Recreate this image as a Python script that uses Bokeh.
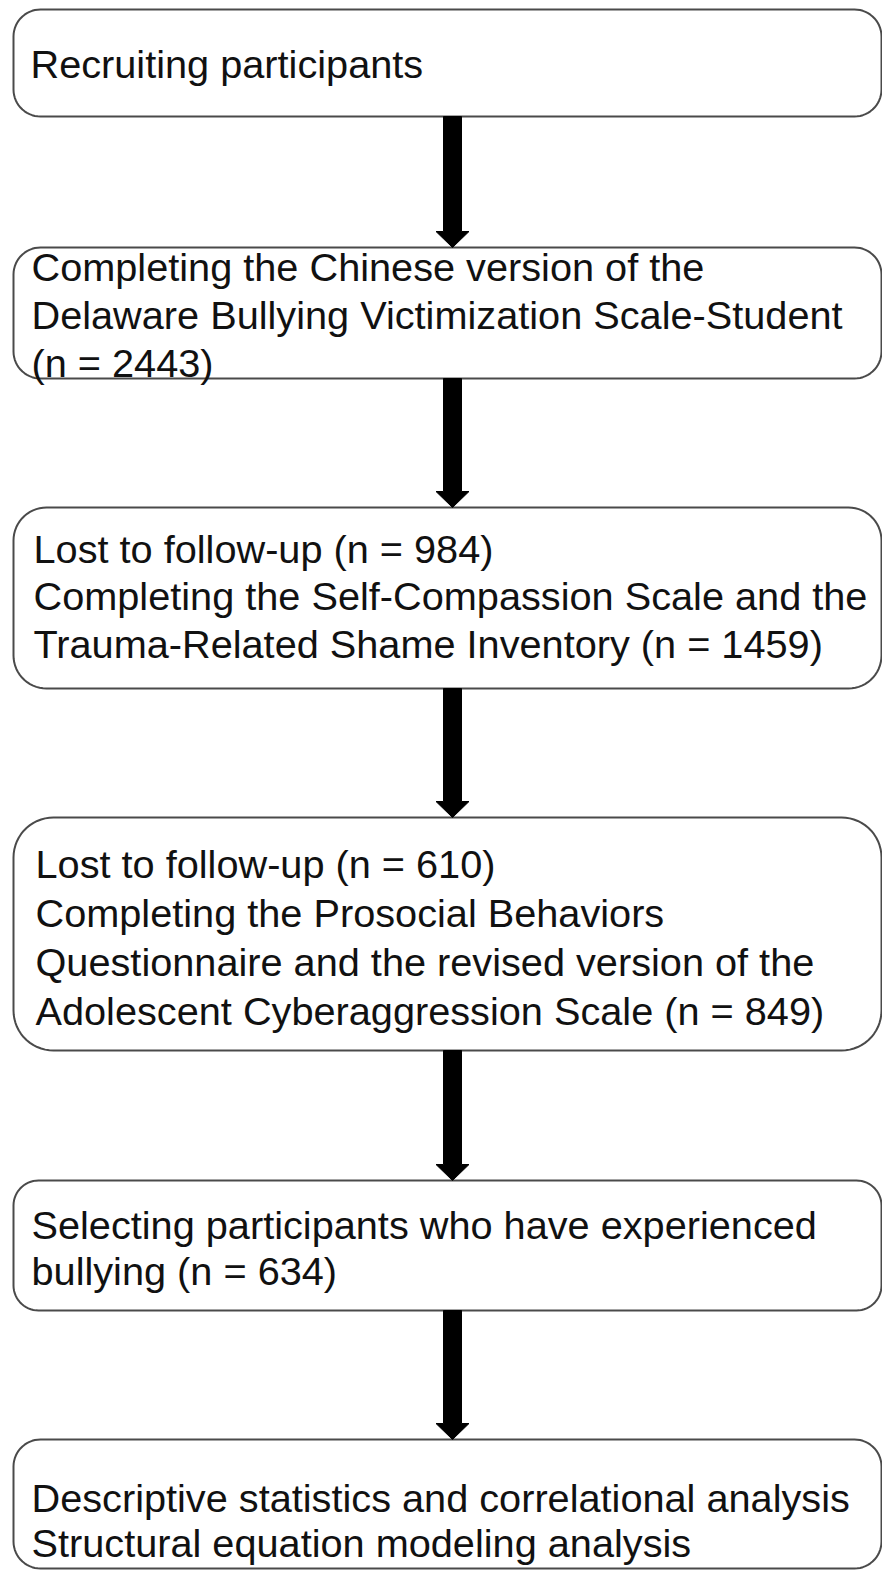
import numpy as np
from bokeh.plotting import figure
from bokeh.models import Range1d, ColumnDataSource
from bokeh.core.properties import value
from bokeh.embed import file_html
from bokeh.resources import INLINE

# ---- data ----
n_lost = [None, None, 984, 610, None, None]
n_sample = [None, 2443, 1459, 849, 634, None]
step_lines = [
    ["Recruiting participants"],
    ["Completing the Chinese version of the",
     "Delaware Bullying Victimization Scale-Student",
     f"(n = {n_sample[1]})"],
    [f"Lost to follow-up (n = {n_lost[2]})",
     "Completing the Self-Compassion Scale and the",
     f"Trauma-Related Shame Inventory (n = {n_sample[2]})"],
    [f"Lost to follow-up (n = {n_lost[3]})",
     "Completing the Prosocial Behaviors",
     "Questionnaire and the revised version of the",
     f"Adolescent Cyberaggression Scale (n = {n_sample[3]})"],
    ["Selecting participants who have experienced",
     f"bullying (n = {n_sample[4]})"],
    ["Descriptive statistics and correlational analysis",
     "Structural equation modeling analysis"],
]

# ---- layout (pixel-like coordinates, y downward) ----
box_top = [9, 247, 507, 817, 1180, 1439]
box_bottom = [116, 378, 688, 1050, 1310, 1568]
box_left, box_right = 13, 881
box_radius = [27, 27, 33, 40, 25, 27]
text_x = [30, 31, 33, 35, 31, 31]
first_baseline = [63, 266, 548, 863, 1224, 1497]
line_gap = [48, 48, 47.5, 49.3, 46, 45]

W, H = 882, 1570
p = figure(width=W, height=H, output_backend="svg", toolbar_location=None,
           x_range=Range1d(0, W), y_range=Range1d(H, 0),
           min_border=0)
p.axis.visible = False
p.grid.visible = False
p.outline_line_color = None
p.background_fill_color = "white"
p.border_fill_color = "white"


def rounded_rect(x0, x1, y0, y1, r, n=16):
    xs, ys = [], []
    corners = [
        (x1 - r, y0 + r, -np.pi / 2, 0),
        (x1 - r, y1 - r, 0, np.pi / 2),
        (x0 + r, y1 - r, np.pi / 2, np.pi),
        (x0 + r, y0 + r, np.pi, 1.5 * np.pi),
    ]
    for cx, cy, a0, a1 in corners:
        t = np.linspace(a0, a1, n)
        xs.extend(cx + r * np.cos(t))
        ys.extend(cy + r * np.sin(t))
    return xs, ys


bx, by = [], []
for t, b, r in zip(box_top, box_bottom, box_radius):
    xs, ys = rounded_rect(box_left, box_right, t, b, r)
    bx.append(xs)
    by.append(ys)
p.patches(bx, by, fill_color="white", line_color="#4a4a4a", line_width=2)

# arrows between boxes
shaft_half, head_half, head_len = 9, 16.5, 16
cx = 452
ax, ay = [], []
for i in range(len(box_top) - 1):
    y0 = box_bottom[i]
    y1 = box_top[i + 1]
    yh = y1 - head_len
    ax.append([cx - shaft_half, cx + shaft_half, cx + shaft_half, cx + head_half,
               cx, cx - head_half, cx - shaft_half])
    ay.append([y0, y0, yh, yh, y1, yh, yh])
p.patches(ax, ay, fill_color="black", line_color="black", line_width=1)

# texts
tx, ty, tt = [], [], []
for i, lines in enumerate(step_lines):
    for j, s in enumerate(lines):
        tx.append(text_x[i])
        ty.append(first_baseline[i] + j * line_gap[i])
        tt.append(s)
src = ColumnDataSource(dict(x=tx, y=ty, text=tt))
p.text(x="x", y="y", text="text", source=src,
       text_font=value("Liberation Sans"), text_font_size="39.7px",
       text_color="#111111", text_baseline="alphabetic", text_align="left")

open("out.html", "w").write(file_html(p, INLINE))
